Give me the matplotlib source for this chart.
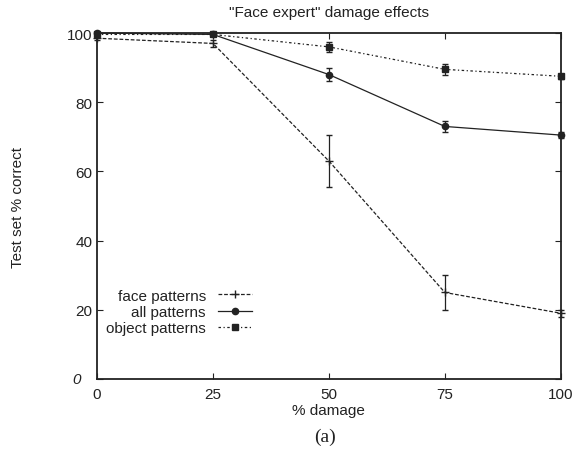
import matplotlib
matplotlib.use("Agg")
import matplotlib.pyplot as plt
from matplotlib.lines import Line2D

damage = [0, 25, 50, 75, 100]
face = [98.5, 97.0, 63.0, 25.0, 19.0]
face_err = [0.5, 1.0, 7.5, 5.0, 1.0]
allp = [100.0, 99.6, 88.0, 73.0, 70.5]
all_err = [0.3, 0.5, 2.0, 1.5, 0.8]
obj = [99.6, 99.6, 96.0, 89.5, 87.5]
obj_err = [0.3, 0.4, 1.5, 1.5, 0.8]

xticks = [0, 25, 50, 75, 100]
yticks = [0, 20, 40, 60, 80, 100]

plt.rcParams['font.family'] = ['Liberation Sans', 'DejaVu Sans']

fig = plt.figure(figsize=(5.74, 4.6), dpi=100)
ax = fig.add_axes([0.169, 0.174, 0.808, 0.752])

col = '#222222'
styles = [
    (face, face_err, (0, (3, 1.5)), '+', 6, 'face patterns'),
    (allp, all_err, '-', 'o', 4.5, 'all patterns'),
    (obj, obj_err, (0, (2, 2, 1, 2)), 's', 4, 'object patterns'),
]
handles = []
for vals, err, ls, mk, ms, lab in styles:
    cont = ax.errorbar(damage, vals, yerr=err, color=col, lw=0.9, ls=ls,
                       marker=mk, ms=ms, capsize=2.5, elinewidth=0.9)
    for a in cont.get_children():
        a.set_clip_on(False)
    handles.append(Line2D([], [], color=col, lw=0.9, ls=ls, marker=mk, ms=ms, label=lab))

ax.set_xlim(0, 100)
ax.set_ylim(0, 100)
ax.set_xticks(xticks)
ax.set_yticks(yticks)
ax.set_yticklabels(['' if v == 0 else str(v) for v in yticks])
ax.text(-0.035, 0.008, '0', transform=ax.get_yaxis_transform(), ha='right', va='center',
        fontsize=11, style='italic', color=col)
ax.tick_params(direction='in', top=True, right=True, labelsize=11, colors=col, length=4)
ax.tick_params(axis='x', pad=6)
for s in ax.spines.values():
    s.set_linewidth(1.3)
    s.set_color(col)

ax.set_title('"Face expert" damage effects', fontsize=11, color=col, pad=12)
ax.set_xlabel('% damage', fontsize=11, color=col, labelpad=1)
ax.set_ylabel('Test set % correct', fontsize=11, color=col, labelpad=30)

leg = ax.legend(handles=handles, loc='lower left', bbox_to_anchor=(0.0, 0.1), frameon=False,
                markerfirst=False, fontsize=11, handlelength=2.2,
                labelspacing=0.15, borderaxespad=0.2)
for t in leg.get_texts():
    t.set_color(col)

fig.text(325 / 574, 1 - 437 / 460, '(a)', fontsize=14, family='Liberation Serif',
         ha='center', va='center', color=col)

fig.savefig('out.png', dpi=100, facecolor='white')
